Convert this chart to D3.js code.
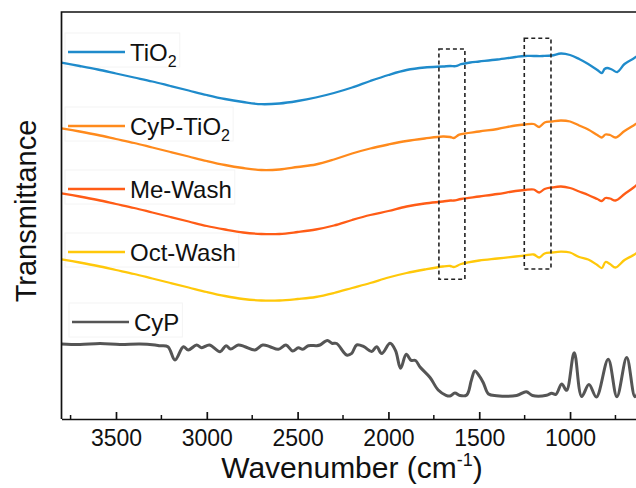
<!DOCTYPE html>
<html>
<head>
<meta charset="utf-8">
<script src="https://cdn.jsdelivr.net/npm/d3@7"></script>
<style>
  html, body { margin: 0; padding: 0; background: #fff; }
  svg { display: block; font-family: Arial, "Liberation Sans", sans-serif; }
</style>
</head>
<body>
<svg id="chart" width="636" height="488"></svg>
<script>
// FTIR spectra, [wavenumber (cm-1), transmittance (a.u., stacked)]
const seriesNames = ["TiO2", "CyP-TiO2", "Me-Wash", "Oct-Wash", "CyP"];
const seriesColors = ["#1f8bcb", "#ff8a1c", "#ff5c16", "#ffc80a", "#555555"];

const tio2 = [[3800,356.3],[3700,353],[3600,349.5],[3500,345.5],[3400,341.5],[3300,337.5],[3200,333],
  [3100,328.5],[3000,324],[2900,320],[2800,317],[2700,314.8],[2600,315.5],[2500,318],[2400,321.5],
  [2300,326],[2200,331.5],[2100,338],[2000,344],[1900,349],[1800,351.5],[1700,352.5],[1660,353],
  [1630,352.8],[1600,354.8],[1550,356.5],[1500,357.5],[1400,359.5],[1300,362],[1250,363],[1200,363],
  [1150,363],[1100,363.5],[1050,365.5],[1000,364],[950,360],[900,355],[850,349],[825,346],[810,350],
  [795,351],[770,349.5],[740,347],[700,355],[650,360.5],[620,364]];

const cypTio2 = [[3800,290.7],[3700,287.5],[3600,284],[3500,280],[3400,276],[3300,271.5],[3200,267],
  [3100,262.5],[3000,258],[2900,254],[2800,251],[2700,249],[2600,249.5],[2500,252],[2400,254.5],
  [2300,259.5],[2200,265.5],[2100,270.5],[2000,274.5],[1900,278],[1800,280.5],[1700,282.5],[1660,282],
  [1640,281],[1610,284.3],[1500,287.5],[1400,290],[1300,293.5],[1250,294.5],[1200,295],[1170,292],
  [1140,296.5],[1100,297.5],[1050,298.5],[1000,297.5],[950,293.5],[900,289.5],[850,284],[825,281.5],
  [805,284.5],[780,284],[750,281.5],[700,288],[650,293.5],[620,297]];

const meWash = [[3800,225.7],[3700,222.5],[3600,219],[3500,215],[3400,211],[3300,206.5],[3200,202],
  [3100,197.5],[3000,193],[2900,189.5],[2800,186.5],[2700,185],[2600,185],[2500,187],[2400,189.5],
  [2300,193.5],[2200,199],[2100,204],[2000,208],[1900,212.5],[1800,215.5],[1700,217.5],[1660,218.5],
  [1640,218.5],[1600,220],[1500,222.5],[1400,225],[1300,228],[1250,229],[1200,229.5],[1170,226.5],
  [1140,230],[1100,231.5],[1050,232.5],[1000,231],[950,227.5],[900,224],[850,220],[825,218],
  [805,221],[780,220.5],[750,218.5],[700,225],[650,231.5],[620,236]];

const octWash = [[3800,159.7],[3700,156.5],[3600,153],[3500,149],[3400,145],[3300,140.5],[3200,136],
  [3100,131.5],[3000,127],[2900,123],[2800,120],[2700,118.5],[2600,118.5],[2500,120],[2400,122],
  [2300,126],[2200,131],[2100,136],[2000,141.5],[1900,146],[1800,149.5],[1700,152.5],[1660,153],
  [1640,152],[1600,155],[1500,158.5],[1400,160.5],[1300,162.5],[1250,163.5],[1200,164.5],[1170,161.5],
  [1140,165.5],[1100,166.5],[1050,167.3],[1000,166.5],[950,162],[900,159.5],[850,154],[825,151],
  [805,157],[780,155],[750,151.5],[700,159],[650,164],[620,168]];

const cyp = [[3800,75],[3698,74.5],[3588,75.5],[3478,74.5],[3368,75],[3285,74],[3258,73.3],[3214,72.3],
  [3175,59],[3129,72.3],[3102,69],[3056,74],[3028,71.3],[2986,74],[2927,67.3],[2894,73.3],[2869,70],
  [2827,74],[2790,72.3],[2735,69],[2692,74],[2652,72.3],[2606,69.7],[2564,74],[2527,68],[2496,71.3],
  [2472,69.7],[2441,73.3],[2395,73.3],[2377,74],[2336,78.5],[2311,75.7],[2285,75.5],[2230,64],
  [2202,65.7],[2175,74],[2135,72.3],[2092,67.5],[2065,72.3],[2037,65.5],[1991,75.7],[1961,68.5],
  [1933,50.7],[1902,64.7],[1875,58.7],[1851,58.5],[1826,52],[1771,41.5],[1726,29],[1683,23.7],
  [1661,23],[1634,26],[1606,23.5],[1569,24],[1543,39],[1524,48],[1497,42.3],[1477,36],[1449,25],
  [1404,23.3],[1294,23.5],[1241,27.3],[1207,23.5],[1129,23.7],[1101,25.7],[1078,24.7],[1046,35],
  [1019,28.7],[977,66.3],[936,22.5],[896,34.5],[855,22],[790,59.7],[742,22.3],[688,61.5],[643,22.3],[620,30]];

const seriesData = [tio2, cypTio2, meWash, octWash, cyp];

// Highlighted bands: [high wavenumber, low wavenumber, lower value, upper value]
const bands = [[1722, 1579, 139.7, 370], [1252, 1105, 150, 380.7]];

const majorTicks = [3500, 3000, 2500, 2000, 1500, 1000];
const minorTicks = [3750, 3250, 2750, 2250, 1750, 1250, 750];

// ---- layout ----
const svg = d3.select("#chart");
const plotLeft = 61.5, plotTop = 12, plotBottom = 419, plotRight = 642.7;

const x = d3.scaleLinear().domain([3800, 600]).range([plotLeft, plotRight]);
const y = d3.scaleLinear().domain([0, 407]).range([plotBottom, plotTop]);

svg.append("defs").append("clipPath").attr("id", "plot-clip")
  .append("rect").attr("x", plotLeft).attr("y", plotTop)
  .attr("width", plotRight - plotLeft).attr("height", plotBottom - plotTop);

// legend entries sit beside their spectra inside faint outline boxes
const legendRows = [52, 126, 189, 252, 322];
const legendX = [68, 68, 68, 68, 72];
const legend = svg.append("g");

// spectra
const line = d3.line()
  .x(d => x(d[0])).y(d => y(d[1]))
  .curve(d3.curveCatmullRom.alpha(0.5));

const plot = svg.append("g").attr("clip-path", "url(#plot-clip)");
seriesData.forEach((data, i) => {
  plot.append("path")
    .datum(data)
    .attr("fill", "none")
    .attr("stroke", seriesColors[i])
    .attr("stroke-width", i === 4 ? 3 : 2.3)
    .attr("stroke-linejoin", "round")
    .attr("d", line);
});

// dashed boxes marking bands of interest
plot.selectAll("rect.band").data(bands).join("rect")
  .attr("class", "band")
  .attr("x", d => x(d[0])).attr("width", d => x(d[1]) - x(d[0]))
  .attr("y", d => y(d[3])).attr("height", d => y(d[2]) - y(d[3]))
  .attr("fill", "none").attr("stroke", "#222").attr("stroke-width", 1.6)
  .attr("stroke-dasharray", "4,3");

// frame: left and top spines
svg.append("path")
  .attr("d", `M${plotLeft},${plotBottom}V${plotTop}H${plotRight}`)
  .attr("fill", "none").attr("stroke", "#111").attr("stroke-width", 1.7);

// bottom axis, ticks pointing inward
const axis = svg.append("g").attr("transform", `translate(0,${plotBottom})`)
  .call(d3.axisBottom(x).tickValues(majorTicks).tickFormat(d3.format("d"))
    .tickSizeInner(-7).tickSizeOuter(0).tickPadding(11));
axis.select(".domain").attr("stroke", "#111").attr("stroke-width", 1.7);
axis.selectAll(".tick line").attr("stroke", "#111").attr("stroke-width", 1.7);
axis.selectAll(".tick text").attr("font-size", 23).attr("fill", "#111")
  .attr("font-family", "Arial, 'Liberation Sans', sans-serif");
axis.selectAll("line.minor").data(minorTicks).join("line")
  .attr("class", "minor")
  .attr("x1", d => x(d)).attr("x2", d => x(d))
  .attr("y1", 0).attr("y2", -4)
  .attr("stroke", "#111").attr("stroke-width", 1.5);

// axis titles
const xt = svg.append("text")
  .attr("x", 352).attr("y", 478)
  .attr("text-anchor", "middle").attr("font-size", 30).attr("fill", "#111");
xt.append("tspan").text("Wavenumber (cm");
xt.append("tspan").attr("font-size", 18).attr("dy", -12).text("-1");
xt.append("tspan").attr("dy", 12).text(")");

svg.append("text")
  .attr("transform", "translate(36,211) rotate(-90)")
  .attr("text-anchor", "middle").attr("font-size", 29).attr("fill", "#111")
  .text("Transmittance");

seriesNames.forEach((name, i) => {
  const g = legend.append("g").attr("transform", `translate(${legendX[i]},${legendRows[i]})`);
  const box = g.append("rect").attr("fill", "none").attr("stroke", "#f4f4f4").attr("stroke-width", 1);
  g.append("line").attr("x1", 0).attr("x2", 57)
    .attr("stroke", seriesColors[i]).attr("stroke-width", 2.3);
  const t = g.append("text").attr("x", 62).attr("y", 8.5)
    .attr("font-size", 24).attr("fill", "#111");
  const parts = name.match(/^(.*O)(2)$/);
  if (parts) {
    t.append("tspan").text(parts[1]);
    t.append("tspan").attr("font-size", 16).attr("dy", 6).text(parts[2]);
  } else {
    t.text(name);
  }
  const bb = t.node().getBBox();
  box.attr("x", -3).attr("y", -19)
    .attr("width", bb.x + bb.width + 6).attr("height", 34);
});
</script>
</body>
</html>
